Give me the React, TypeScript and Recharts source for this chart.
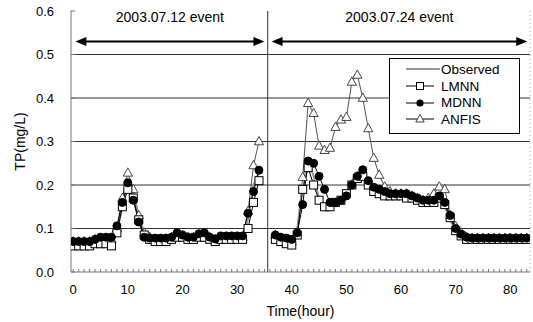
import React from "react";
import { LineChart, Line, XAxis, YAxis, ReferenceLine } from "recharts";

// hours 0..34 = 2003.07.12 event, 37..83 = 2003.07.24 event (35,36 empty gap)
const hours = [
  0, 1, 2, 3, 4, 5, 6, 7, 8, 9, 10, 11, 12, 13, 14, 15, 16, 17, 18, 19, 20, 21, 22, 23, 24, 25, 26, 27, 28, 29,
  30, 31, 32, 33, 34, 35, 36, 37, 38, 39, 40, 41, 42, 43, 44, 45, 46, 47, 48, 49, 50, 51, 52, 53, 54, 55, 56, 57, 58, 59,
  60, 61, 62, 63, 64, 65, 66, 67, 68, 69, 70, 71, 72, 73, 74, 75, 76, 77, 78, 79, 80, 81, 82, 83,
];

const observed = [
  0.07, 0.07, 0.07, 0.07, 0.075, 0.075, 0.075, 0.075, 0.09, 0.15, 0.2, 0.185, 0.13, 0.09, 0.08, 0.075, 0.075, 0.075, 0.08, 0.085,
  0.085, 0.08, 0.08, 0.085, 0.085, 0.08, 0.075, 0.08, 0.08, 0.08, 0.08, 0.08, 0.12, 0.2, 0.23, null, null,
  0.08, 0.075, 0.07, 0.07, 0.1, 0.2, 0.26, 0.22, 0.17, 0.142, 0.142, 0.155, 0.165, 0.18, 0.21, 0.23, 0.23, 0.2, 0.19, 0.185, 0.18,
  0.18, 0.18, 0.18, 0.175, 0.175, 0.17, 0.165, 0.165, 0.17, 0.18, 0.15, 0.12, 0.095, 0.085, 0.078, 0.078, 0.078, 0.078, 0.078,
  0.078, 0.078, 0.078, 0.078, 0.078, 0.078, 0.078,
];

const lmnn = [
  0.06, 0.06, 0.06, 0.06, 0.065, 0.065, 0.065, 0.06, 0.09, 0.15, 0.19, 0.17, 0.12, 0.085, 0.075, 0.07, 0.07, 0.07, 0.075, 0.08,
  0.08, 0.075, 0.075, 0.08, 0.08, 0.075, 0.07, 0.075, 0.075, 0.075, 0.075, 0.075, 0.1, 0.16, 0.21, null, null,
  0.075, 0.07, 0.065, 0.062, 0.085, 0.19, 0.24, 0.2, 0.165, 0.15, 0.15, 0.16, 0.165, 0.18, 0.2, 0.215, 0.22, 0.2, 0.185, 0.18, 0.175,
  0.175, 0.175, 0.175, 0.17, 0.17, 0.165, 0.16, 0.16, 0.16, 0.17, 0.155, 0.125, 0.095, 0.083, 0.075, 0.075, 0.075, 0.075, 0.075,
  0.075, 0.075, 0.075, 0.075, 0.075, 0.075, 0.075,
];

const mdnn = [
  0.07, 0.07, 0.07, 0.07, 0.075, 0.08, 0.08, 0.08, 0.106, 0.16, 0.205, 0.165, 0.115, 0.08, 0.078, 0.078, 0.078, 0.078, 0.08, 0.09,
  0.085, 0.08, 0.08, 0.088, 0.09, 0.08, 0.076, 0.083, 0.083, 0.083, 0.083, 0.083, 0.135, 0.185, 0.234, null, null,
  0.085, 0.08, 0.078, 0.075, 0.09, 0.155, 0.255, 0.25, 0.22, 0.19, 0.16, 0.16, 0.165, 0.175, 0.2, 0.22, 0.235, 0.21, 0.195, 0.19, 0.185,
  0.18, 0.18, 0.18, 0.18, 0.175, 0.17, 0.165, 0.165, 0.165, 0.175, 0.16, 0.13, 0.1, 0.087, 0.08, 0.078, 0.078, 0.078, 0.078,
  0.078, 0.078, 0.078, 0.078, 0.078, 0.078, 0.078,
];

const anfis = [
  0.07, 0.07, 0.07, 0.07, 0.075, 0.075, 0.075, 0.075, 0.1, 0.17, 0.228, 0.19, 0.13, 0.09, 0.08, 0.075, 0.075, 0.075, 0.08, 0.085,
  0.085, 0.08, 0.08, 0.085, 0.085, 0.08, 0.075, 0.08, 0.08, 0.08, 0.08, 0.08, 0.14, 0.245, 0.3, null, null,
  0.085, 0.075, 0.075, 0.07, 0.09, 0.218, 0.388, 0.365, 0.29, 0.28, 0.285, 0.333, 0.35, 0.356, 0.437, 0.453, 0.4, 0.33, 0.262, 0.223, 0.196,
  0.185, 0.18, 0.18, 0.18, 0.175, 0.17, 0.165, 0.17, 0.18, 0.196, 0.19, 0.13, 0.105, 0.09, 0.08, 0.078, 0.078, 0.078, 0.078,
  0.078, 0.078, 0.078, 0.078, 0.078, 0.078, 0.078,
];

const yTicks = [0, 0.1, 0.2, 0.3, 0.4, 0.5, 0.6];
const gridValues = [0.1, 0.2, 0.3, 0.4, 0.5];
const xLabels = [0, 10, 20, 30, 40, 50, 60, 70, 80];
const events = [
  { label: "2003.07.12 event", from: 0.4, to: 35 },
  { label: "2003.07.24 event", from: 36.3, to: 83.1 },
];
const eventSplit = 35.6;
const arrowLevel = 0.53;

const data = hours.map((h, i) => ({
  hour: h,
  observed: observed[i],
  lmnn: lmnn[i],
  mdnn: mdnn[i],
  anfis: anfis[i],
}));

const FONT = "'Liberation Sans', Arial, sans-serif";

const SquareDot = (p: any) => {
  const { cx, cy, value, index } = p;
  if (cx == null || cy == null || value == null) return <g key={index} />;
  return <rect key={index} x={cx - 4} y={cy - 4} width={8} height={8} fill="#fff" stroke="#000" strokeWidth={1} />;
};

const CircleDot = (p: any) => {
  const { cx, cy, value, index } = p;
  if (cx == null || cy == null || value == null) return <g key={index} />;
  return <circle key={index} cx={cx} cy={cy} r={4} fill="#000" stroke="#000" />;
};

const TriangleDot = (p: any) => {
  const { cx, cy, value, index } = p;
  if (cx == null || cy == null || value == null) return <g key={index} />;
  return (
    <polygon
      key={index}
      points={`${cx},${cy - 5} ${cx - 4.6},${cy + 3.3} ${cx + 4.6},${cy + 3.3}`}
      fill="#fff"
      stroke="#333"
      strokeWidth={0.9}
    />
  );
};

const eventArrow = (label: string) => (p: any) => {
  const { x1, y1, x2 } = p;
  const a = Math.min(x1, x2);
  const b = Math.max(x1, x2);
  return (
    <g>
      <line x1={a + 6} y1={y1} x2={b - 6} y2={y1} stroke="#000" strokeWidth={2} />
      <polygon points={`${a},${y1} ${a + 11},${y1 - 4.5} ${a + 11},${y1 + 4.5}`} fill="#000" />
      <polygon points={`${b},${y1} ${b - 11},${y1 - 4.5} ${b - 11},${y1 + 4.5}`} fill="#000" />
      <text x={(a + b) / 2} y={y1 - 19} textAnchor="middle" fontSize={14} fontFamily={FONT} fill="#000">
        {label}
      </text>
    </g>
  );
};

const legendItems = [
  { name: "Observed", kind: "obs" },
  { name: "LMNN", kind: "sq" },
  { name: "MDNN", kind: "ci" },
  { name: "ANFIS", kind: "tr" },
];

const LegendIcon = ({ kind }: { kind: string }) => (
  <svg width={36} height={12} style={{ display: "block" }}>
    {kind === "obs" ? (
      <line x1={2} y1={6} x2={36} y2={6} stroke="#999" strokeWidth={2} />
    ) : (
      <line x1={2} y1={6} x2={30} y2={6} stroke="#000" strokeWidth={1} />
    )}
    {kind === "sq" && <rect x={12.5} y={2.5} width={7} height={7} fill="#fff" stroke="#000" />}
    {kind === "ci" && <circle cx={16} cy={6} r={3.6} fill="#000" />}
    {kind === "tr" && <polygon points="16,1.5 11.8,9 20.2,9" fill="#fff" stroke="#333" strokeWidth={0.9} />}
  </svg>
);

export default function App() {
  return (
    <div style={{ position: "absolute", left: 0, top: 0, width: 533, height: 322, background: "#fff", fontFamily: FONT }}>
      <LineChart width={533} height={322} data={data} margin={{ top: 11, right: 3, bottom: 0, left: 0 }}>
        <XAxis
          dataKey="hour"
          type="number"
          domain={[-0.4, 83.6]}
          allowDataOverflow
          ticks={hours}
          interval={0}
          tickFormatter={(v: number) => (xLabels.includes(v) ? String(v) : "")}
          height={50}
          stroke="#777"
          tickSize={-3}
          tickMargin={16}
          tick={{ fill: "#000", fontSize: 13, fontFamily: FONT }}
          label={{ value: "Time(hour)", position: "insideBottom", offset: 6, fill: "#000", fontSize: 14, fontFamily: FONT }}
        />
        <YAxis
          type="number"
          domain={[0, 0.6]}
          ticks={yTicks}
          interval={0}
          width={71}
          stroke="#777"
          tickSize={-4}
          tickMargin={21}
          tickFormatter={(v: number) => v.toFixed(1)}
          tick={{ fill: "#000", fontSize: 13, fontFamily: FONT }}
          label={{
            value: "TP(mg/L)",
            angle: -90,
            position: "insideLeft",
            offset: 20,
            fill: "#000",
            fontSize: 14,
            fontFamily: FONT,
            style: { textAnchor: "middle" },
          }}
        />
        {gridValues.map((v) => (
          <ReferenceLine key={v} y={v} stroke="#333" strokeWidth={1} />
        ))}
        <ReferenceLine x={83.6} stroke="#aaa" strokeDasharray="1 3" />
        <ReferenceLine x={eventSplit} stroke="#333" strokeWidth={1} />
        {events.map((e) => (
          <ReferenceLine
            key={e.label}
            segment={[
              { x: e.from, y: arrowLevel },
              { x: e.to, y: arrowLevel },
            ]}
            shape={eventArrow(e.label)}
          />
        ))}
        <Line type="linear" dataKey="anfis" stroke="#555" strokeWidth={1} dot={TriangleDot} isAnimationActive={false} />
        <Line type="linear" dataKey="observed" stroke="#999" strokeWidth={2} dot={false} isAnimationActive={false} />
        <Line type="linear" dataKey="lmnn" stroke="#000" strokeWidth={1} dot={SquareDot} isAnimationActive={false} />
        <Line type="linear" dataKey="mdnn" stroke="#000" strokeWidth={1} dot={CircleDot} isAnimationActive={false} />
      </LineChart>
      <div
        style={{
          position: "absolute",
          left: 389,
          top: 58,
          width: 129,
          height: 72,
          border: "1px solid #000",
          background: "#fff",
          paddingTop: 2,
          boxSizing: "content-box",
        }}
      >
        {legendItems.map((it) => (
          <div key={it.name} style={{ display: "flex", alignItems: "center", height: 16.7 }}>
            <div style={{ width: 14 }} />
            <LegendIcon kind={it.kind} />
            <span style={{ fontSize: 13.5, marginLeft: 1, color: "#000" }}>{it.name}</span>
          </div>
        ))}
      </div>
    </div>
  );
}
